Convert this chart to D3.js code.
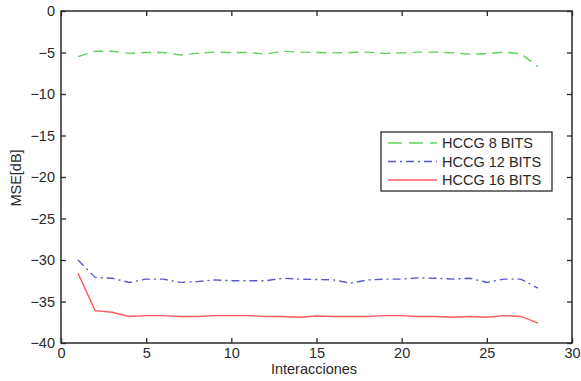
<!DOCTYPE html>
<html>
<head>
<meta charset="utf-8">
<script src="https://cdn.jsdelivr.net/npm/d3@7"></script>
<style>
  body { margin: 0; background: #fff; }
  text { font-family: "Liberation Sans", Arial, sans-serif; }
</style>
</head>
<body>
<div class="chart"></div>
<script>
const width = 581;
const height = 381;

const iterations = d3.range(1, 29);
const hccg8 = [-5.5, -4.85, -4.85, -5.1, -5.0, -5.0, -5.3, -5.1, -4.95, -5.0, -5.0, -5.2, -4.85, -4.95,
  -5.0, -5.05, -5.0, -4.95, -5.1, -5.05, -4.95, -4.95, -5.05, -5.2, -5.15, -4.95, -5.15, -6.7];
const hccg12 = [-30.0, -32.1, -32.2, -32.7, -32.3, -32.3, -32.7, -32.6, -32.4, -32.5, -32.5, -32.5, -32.2, -32.3,
  -32.35, -32.4, -32.8, -32.4, -32.3, -32.3, -32.15, -32.2, -32.3, -32.2, -32.7, -32.3, -32.3, -33.4];
const hccg16 = [-31.6, -36.1, -36.3, -36.8, -36.7, -36.7, -36.8, -36.8, -36.7, -36.7, -36.7, -36.8, -36.8, -36.9,
  -36.75, -36.8, -36.8, -36.8, -36.7, -36.7, -36.8, -36.8, -36.9, -36.8, -36.9, -36.7, -36.8, -37.6];
const seriesNames = ["HCCG 8 BITS", "HCCG 12 BITS", "HCCG 16 BITS"];
const xTicks = [0, 5, 10, 15, 20, 25, 30];
const yTicks = [0, -5, -10, -15, -20, -25, -30, -35, -40];

const series = [
  {name: seriesNames[0], values: hccg8, color: "#5fd35f", dash: "10,6"},
  {name: seriesNames[1], values: hccg12, color: "#5858cc", dash: "8,4,2,4"},
  {name: seriesNames[2], values: hccg16, color: "#ff5a5a", dash: null}
];

const margin = {top: 11, right: 9, bottom: 38, left: 61};

const x = d3.scaleLinear().domain([0, 30]).range([margin.left, width - margin.right]);
const y = d3.scaleLinear().domain([-40, 0]).range([height - margin.bottom, margin.top]);

const svg = d3.select(".chart")
  .append("svg")
  .attr("width", width)
  .attr("height", height);

const axisColor = "#2a2a2a";

// inward ticks on all four sides, matlab style
const bottomAxis = svg.append("g")
  .attr("transform", `translate(0,${y(-40)})`)
  .call(d3.axisBottom(x).tickValues(xTicks).tickSize(-5).tickPadding(5).tickFormat(d3.format("d")));
const topAxis = svg.append("g")
  .attr("transform", `translate(0,${y(0)})`)
  .call(d3.axisTop(x).tickValues(xTicks).tickSize(-5).tickFormat(""));
const leftAxis = svg.append("g")
  .attr("transform", `translate(${x(0)},0)`)
  .call(d3.axisLeft(y).tickValues(yTicks).tickSize(-5).tickPadding(6).tickFormat(d3.format("d")));
const rightAxis = svg.append("g")
  .attr("transform", `translate(${x(30)},0)`)
  .call(d3.axisRight(y).tickValues(yTicks).tickSize(-5).tickFormat(""));

[bottomAxis, topAxis, leftAxis, rightAxis].forEach(g => {
  g.select(".domain").remove();
  g.selectAll(".tick line").attr("stroke", axisColor).attr("stroke-width", 1.3);
  g.selectAll(".tick text").attr("fill", axisColor).attr("font-size", "14.5px");
});

svg.append("rect")
  .attr("x", x(0))
  .attr("y", y(0))
  .attr("width", x(30) - x(0))
  .attr("height", y(-40) - y(0))
  .attr("fill", "none")
  .attr("stroke", axisColor)
  .attr("stroke-width", 1.5);

const line = d3.line()
  .x((d, i) => x(iterations[i]))
  .y(d => y(d));

svg.append("g")
  .selectAll("path")
  .data(series)
  .join("path")
  .attr("d", d => line(d.values))
  .attr("fill", "none")
  .attr("stroke", d => d.color)
  .attr("stroke-width", 1.4)
  .attr("stroke-dasharray", d => d.dash);

svg.append("text")
  .attr("x", 314)
  .attr("y", 374)
  .attr("text-anchor", "middle")
  .attr("font-size", "14.5px")
  .attr("fill", axisColor)
  .text("Interacciones");

svg.append("text")
  .attr("transform", `translate(21,178) rotate(-90)`)
  .attr("text-anchor", "middle")
  .attr("font-size", "14.5px")
  .attr("fill", axisColor)
  .text("MSE[dB]");

// legend
const legend = svg.append("g").attr("transform", "translate(381,132)");
legend.append("rect")
  .attr("width", 171)
  .attr("height", 59)
  .attr("fill", "#fff")
  .attr("stroke", axisColor)
  .attr("stroke-width", 1.3);

const rows = legend.selectAll(".row")
  .data(series)
  .join("g")
  .attr("class", "row")
  .attr("transform", (d, i) => `translate(0,${11 + i * 18.5})`);

rows.append("line")
  .attr("x1", 7)
  .attr("x2", 56)
  .attr("stroke", d => d.color)
  .attr("stroke-width", 1.4)
  .attr("stroke-dasharray", (d, i) => i === 0 ? "14,7" : d.dash);

rows.append("text")
  .attr("x", 61)
  .attr("dy", "0.36em")
  .attr("font-size", "14.5px")
  .attr("fill", axisColor)
  .text(d => d.name);
</script>
</body>
</html>
